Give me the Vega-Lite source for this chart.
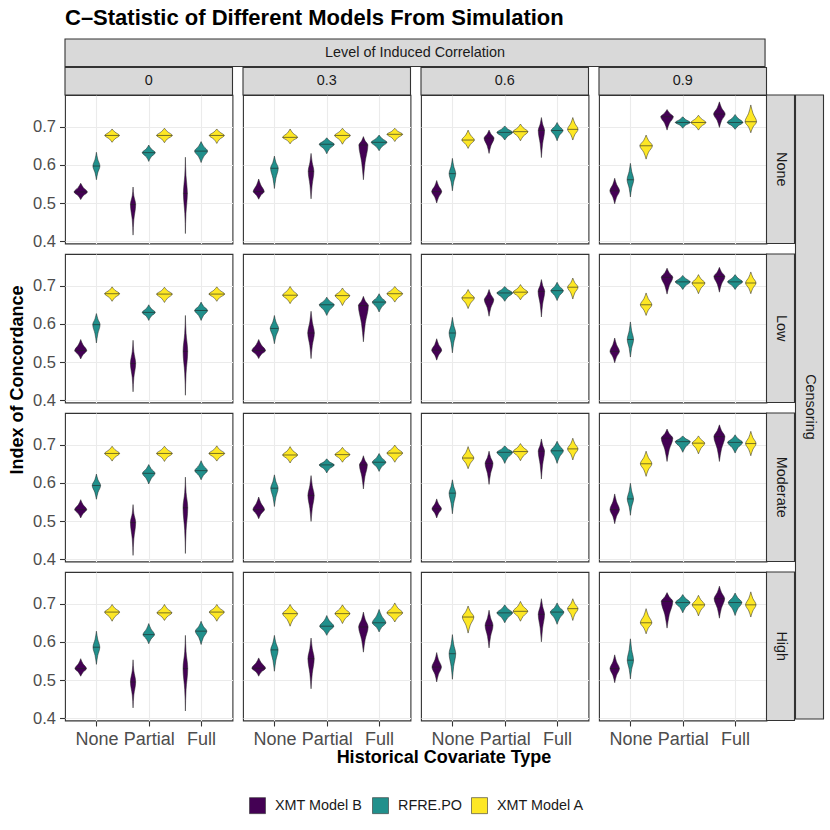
{
  "$schema": "https://vega.github.io/schema/vega-lite/v6.json",
  "background": "white",
  "padding": {"left": 8, "top": 6, "right": 9, "bottom": 10},
  "title": {
    "text": "C–Statistic of Different Models From Simulation",
    "anchor": "start",
    "frame": "group",
    "fontSize": 22,
    "fontWeight": "bold",
    "color": "black",
    "offset": 8
  },
  "data": {
    "values": [
      {"k":"cs","c":"0","s":"None","lab":"0"},
      {"k":"cs","c":"0.3","s":"None","lab":"0.3"},
      {"k":"cs","c":"0.6","s":"None","lab":"0.6"},
      {"k":"cs","c":"0.9","s":"None","lab":"0.9"},
      {"k":"rs","c":"0.9","s":"None","lab":"None"},
      {"k":"rs","c":"0.9","s":"Low","lab":"Low"},
      {"k":"rs","c":"0.9","s":"Moderate","lab":"Moderate"},
      {"k":"rs","c":"0.9","s":"High","lab":"High"},
      {"k":"os","c":"0","s":"None","lab":"Level of Induced Correlation"},
      {"k":"cen","c":"0.9","s":"None","lab":"Censoring"},

      {"k":"v","c":"0","s":"None","t":"N","m":"B","vy":[0.509,0.519,0.529,0.541,0.552],"vw":[0,0.048,0.127,0.048,0]},
      {"k":"v","c":"0","s":"None","t":"N","m":"R","vy":[0.561,0.579,0.597,0.615,0.633],"vw":[0,0.025,0.067,0.025,0]},
      {"k":"v","c":"0","s":"None","t":"N","m":"A","vy":[0.659,0.668,0.677,0.686,0.694],"vw":[0,0.053,0.14,0.053,0]},
      {"k":"v","c":"0","s":"None","t":"P","m":"B","vy":[0.416,0.456,0.496,0.519,0.542],"vw":[0,0.015,0.05,0.015,0]},
      {"k":"v","c":"0","s":"None","t":"P","m":"R","vy":[0.609,0.621,0.632,0.642,0.652],"vw":[0,0.047,0.124,0.047,0]},
      {"k":"v","c":"0","s":"None","t":"P","m":"A","vy":[0.658,0.668,0.677,0.687,0.696],"vw":[0,0.057,0.15,0.057,0]},
      {"k":"v","c":"0","s":"None","t":"F","m":"B","vy":[0.42,0.473,0.525,0.573,0.62],"vw":[0,0.011,0.038,0.011,0]},
      {"k":"v","c":"0","s":"None","t":"F","m":"R","vy":[0.606,0.621,0.636,0.649,0.661],"vw":[0,0.047,0.124,0.047,0]},
      {"k":"v","c":"0","s":"None","t":"F","m":"A","vy":[0.656,0.667,0.677,0.686,0.694],"vw":[0,0.054,0.143,0.054,0]},

      {"k":"v","c":"0.3","s":"None","t":"N","m":"B","vy":[0.51,0.52,0.53,0.547,0.563],"vw":[0,0.04,0.105,0.04,0]},
      {"k":"v","c":"0.3","s":"None","t":"N","m":"R","vy":[0.538,0.565,0.591,0.607,0.623],"vw":[0,0.028,0.073,0.028,0]},
      {"k":"v","c":"0.3","s":"None","t":"N","m":"A","vy":[0.655,0.664,0.672,0.683,0.694],"vw":[0,0.054,0.143,0.054,0]},
      {"k":"v","c":"0.3","s":"None","t":"P","m":"B","vy":[0.511,0.547,0.583,0.607,0.63],"vw":[0,0.021,0.054,0.021,0]},
      {"k":"v","c":"0.3","s":"None","t":"P","m":"R","vy":[0.629,0.642,0.654,0.663,0.671],"vw":[0,0.054,0.143,0.054,0]},
      {"k":"v","c":"0.3","s":"None","t":"P","m":"A","vy":[0.654,0.666,0.677,0.687,0.696],"vw":[0,0.057,0.15,0.057,0]},
      {"k":"v","c":"0.3","s":"None","t":"F","m":"B","vy":[0.561,0.607,0.652,0.663,0.674],"vw":[0,0.033,0.086,0.033,0]},
      {"k":"v","c":"0.3","s":"None","t":"F","m":"R","vy":[0.637,0.648,0.659,0.669,0.678],"vw":[0,0.057,0.15,0.057,0]},
      {"k":"v","c":"0.3","s":"None","t":"F","m":"A","vy":[0.661,0.671,0.68,0.688,0.696],"vw":[0,0.057,0.15,0.057,0]},

      {"k":"v","c":"0.6","s":"None","t":"N","m":"B","vy":[0.5,0.515,0.53,0.545,0.559],"vw":[0,0.036,0.095,0.036,0]},
      {"k":"v","c":"0.6","s":"None","t":"N","m":"R","vy":[0.532,0.555,0.577,0.597,0.617],"vw":[0,0.024,0.063,0.024,0]},
      {"k":"v","c":"0.6","s":"None","t":"N","m":"A","vy":[0.643,0.654,0.665,0.678,0.691],"vw":[0,0.046,0.12,0.046,0]},
      {"k":"v","c":"0.6","s":"None","t":"P","m":"B","vy":[0.63,0.65,0.67,0.681,0.691],"vw":[0,0.036,0.095,0.036,0]},
      {"k":"v","c":"0.6","s":"None","t":"P","m":"R","vy":[0.665,0.675,0.685,0.694,0.702],"vw":[0,0.057,0.15,0.057,0]},
      {"k":"v","c":"0.6","s":"None","t":"P","m":"A","vy":[0.663,0.675,0.687,0.697,0.707],"vw":[0,0.054,0.143,0.054,0]},
      {"k":"v","c":"0.6","s":"None","t":"F","m":"B","vy":[0.619,0.655,0.69,0.707,0.724],"vw":[0,0.023,0.06,0.023,0]},
      {"k":"v","c":"0.6","s":"None","t":"F","m":"R","vy":[0.663,0.677,0.69,0.701,0.711],"vw":[0,0.043,0.114,0.043,0]},
      {"k":"v","c":"0.6","s":"None","t":"F","m":"A","vy":[0.665,0.679,0.693,0.709,0.724],"vw":[0,0.038,0.1,0.038,0]},

      {"k":"v","c":"0.9","s":"None","t":"N","m":"B","vy":[0.498,0.515,0.532,0.549,0.565],"vw":[0,0.035,0.092,0.035,0]},
      {"k":"v","c":"0.9","s":"None","t":"N","m":"R","vy":[0.516,0.539,0.561,0.583,0.604],"vw":[0,0.024,0.063,0.024,0]},
      {"k":"v","c":"0.9","s":"None","t":"N","m":"A","vy":[0.615,0.633,0.65,0.664,0.678],"vw":[0,0.046,0.12,0.046,0]},
      {"k":"v","c":"0.9","s":"None","t":"P","m":"B","vy":[0.691,0.709,0.726,0.736,0.745],"vw":[0,0.046,0.12,0.046,0]},
      {"k":"v","c":"0.9","s":"None","t":"P","m":"R","vy":[0.696,0.704,0.711,0.719,0.726],"vw":[0,0.054,0.143,0.054,0]},
      {"k":"v","c":"0.9","s":"None","t":"P","m":"A","vy":[0.691,0.701,0.711,0.721,0.73],"vw":[0,0.054,0.143,0.054,0]},
      {"k":"v","c":"0.9","s":"None","t":"F","m":"B","vy":[0.698,0.716,0.733,0.749,0.765],"vw":[0,0.042,0.11,0.042,0]},
      {"k":"v","c":"0.9","s":"None","t":"F","m":"R","vy":[0.693,0.702,0.711,0.722,0.732],"vw":[0,0.057,0.15,0.057,0]},
      {"k":"v","c":"0.9","s":"None","t":"F","m":"A","vy":[0.684,0.699,0.713,0.735,0.757],"vw":[0,0.042,0.11,0.042,0]},

      {"k":"v","c":"0","s":"Low","t":"N","m":"B","vy":[0.508,0.519,0.53,0.545,0.559],"vw":[0,0.044,0.115,0.044,0]},
      {"k":"v","c":"0","s":"Low","t":"N","m":"R","vy":[0.55,0.574,0.598,0.613,0.627],"vw":[0,0.027,0.07,0.027,0]},
      {"k":"v","c":"0","s":"Low","t":"N","m":"A","vy":[0.659,0.669,0.679,0.688,0.697],"vw":[0,0.054,0.143,0.054,0]},
      {"k":"v","c":"0","s":"Low","t":"P","m":"B","vy":[0.422,0.459,0.496,0.527,0.557],"vw":[0,0.015,0.05,0.015,0]},
      {"k":"v","c":"0","s":"Low","t":"P","m":"R","vy":[0.609,0.62,0.63,0.64,0.65],"vw":[0,0.047,0.124,0.047,0]},
      {"k":"v","c":"0","s":"Low","t":"P","m":"A","vy":[0.656,0.667,0.678,0.687,0.696],"vw":[0,0.057,0.15,0.057,0]},
      {"k":"v","c":"0","s":"Low","t":"F","m":"B","vy":[0.413,0.471,0.528,0.575,0.622],"vw":[0,0.013,0.044,0.013,0]},
      {"k":"v","c":"0","s":"Low","t":"F","m":"R","vy":[0.609,0.622,0.635,0.646,0.657],"vw":[0,0.047,0.124,0.047,0]},
      {"k":"v","c":"0","s":"Low","t":"F","m":"A","vy":[0.659,0.669,0.678,0.688,0.697],"vw":[0,0.057,0.15,0.057,0]},

      {"k":"v","c":"0.3","s":"Low","t":"N","m":"B","vy":[0.509,0.52,0.53,0.545,0.559],"vw":[0,0.049,0.13,0.049,0]},
      {"k":"v","c":"0.3","s":"Low","t":"N","m":"R","vy":[0.548,0.568,0.588,0.605,0.622],"vw":[0,0.03,0.08,0.03,0]},
      {"k":"v","c":"0.3","s":"Low","t":"N","m":"A","vy":[0.653,0.664,0.675,0.687,0.698],"vw":[0,0.054,0.143,0.054,0]},
      {"k":"v","c":"0.3","s":"Low","t":"P","m":"B","vy":[0.509,0.543,0.576,0.605,0.633],"vw":[0,0.024,0.063,0.024,0]},
      {"k":"v","c":"0.3","s":"Low","t":"P","m":"R","vy":[0.622,0.636,0.65,0.66,0.67],"vw":[0,0.054,0.143,0.054,0]},
      {"k":"v","c":"0.3","s":"Low","t":"P","m":"A","vy":[0.648,0.661,0.674,0.684,0.694],"vw":[0,0.053,0.14,0.053,0]},
      {"k":"v","c":"0.3","s":"Low","t":"F","m":"B","vy":[0.553,0.601,0.648,0.66,0.672],"vw":[0,0.036,0.095,0.036,0]},
      {"k":"v","c":"0.3","s":"Low","t":"F","m":"R","vy":[0.631,0.644,0.657,0.668,0.679],"vw":[0,0.049,0.13,0.049,0]},
      {"k":"v","c":"0.3","s":"Low","t":"F","m":"A","vy":[0.657,0.668,0.679,0.689,0.698],"vw":[0,0.057,0.15,0.057,0]},

      {"k":"v","c":"0.6","s":"Low","t":"N","m":"B","vy":[0.505,0.518,0.531,0.546,0.561],"vw":[0,0.036,0.095,0.036,0]},
      {"k":"v","c":"0.6","s":"Low","t":"N","m":"R","vy":[0.524,0.55,0.576,0.597,0.617],"vw":[0,0.024,0.063,0.024,0]},
      {"k":"v","c":"0.6","s":"Low","t":"N","m":"A","vy":[0.64,0.654,0.668,0.679,0.69],"vw":[0,0.046,0.12,0.046,0]},
      {"k":"v","c":"0.6","s":"Low","t":"P","m":"B","vy":[0.62,0.642,0.663,0.677,0.69],"vw":[0,0.034,0.09,0.034,0]},
      {"k":"v","c":"0.6","s":"Low","t":"P","m":"R","vy":[0.659,0.67,0.681,0.69,0.698],"vw":[0,0.057,0.15,0.057,0]},
      {"k":"v","c":"0.6","s":"Low","t":"P","m":"A","vy":[0.663,0.673,0.683,0.693,0.703],"vw":[0,0.053,0.14,0.053,0]},
      {"k":"v","c":"0.6","s":"Low","t":"F","m":"B","vy":[0.618,0.652,0.685,0.701,0.716],"vw":[0,0.024,0.063,0.024,0]},
      {"k":"v","c":"0.6","s":"Low","t":"F","m":"R","vy":[0.661,0.674,0.687,0.698,0.709],"vw":[0,0.046,0.12,0.046,0]},
      {"k":"v","c":"0.6","s":"Low","t":"F","m":"A","vy":[0.665,0.681,0.696,0.708,0.72],"vw":[0,0.038,0.1,0.038,0]},

      {"k":"v","c":"0.9","s":"Low","t":"N","m":"B","vy":[0.498,0.513,0.528,0.546,0.563],"vw":[0,0.034,0.09,0.034,0]},
      {"k":"v","c":"0.9","s":"Low","t":"N","m":"R","vy":[0.513,0.536,0.559,0.582,0.605],"vw":[0,0.023,0.06,0.023,0]},
      {"k":"v","c":"0.9","s":"Low","t":"N","m":"A","vy":[0.622,0.636,0.65,0.666,0.681],"vw":[0,0.042,0.11,0.042,0]},
      {"k":"v","c":"0.9","s":"Low","t":"P","m":"B","vy":[0.678,0.7,0.722,0.734,0.746],"vw":[0,0.042,0.11,0.042,0]},
      {"k":"v","c":"0.9","s":"Low","t":"P","m":"R","vy":[0.69,0.7,0.71,0.719,0.727],"vw":[0,0.054,0.143,0.054,0]},
      {"k":"v","c":"0.9","s":"Low","t":"P","m":"A","vy":[0.679,0.693,0.707,0.718,0.729],"vw":[0,0.047,0.124,0.047,0]},
      {"k":"v","c":"0.9","s":"Low","t":"F","m":"B","vy":[0.683,0.704,0.724,0.736,0.748],"vw":[0,0.04,0.105,0.04,0]},
      {"k":"v","c":"0.9","s":"Low","t":"F","m":"R","vy":[0.69,0.7,0.71,0.72,0.729],"vw":[0,0.054,0.143,0.054,0]},
      {"k":"v","c":"0.9","s":"Low","t":"F","m":"A","vy":[0.679,0.693,0.707,0.722,0.736],"vw":[0,0.038,0.1,0.038,0]},

      {"k":"v","c":"0","s":"Moderate","t":"N","m":"B","vy":[0.508,0.519,0.53,0.543,0.556],"vw":[0,0.044,0.115,0.044,0]},
      {"k":"v","c":"0","s":"Moderate","t":"N","m":"R","vy":[0.557,0.575,0.593,0.608,0.623],"vw":[0,0.03,0.08,0.03,0]},
      {"k":"v","c":"0","s":"Moderate","t":"N","m":"A","vy":[0.657,0.667,0.677,0.687,0.696],"vw":[0,0.054,0.143,0.054,0]},
      {"k":"v","c":"0","s":"Moderate","t":"P","m":"B","vy":[0.41,0.453,0.496,0.52,0.543],"vw":[0,0.015,0.05,0.015,0]},
      {"k":"v","c":"0","s":"Moderate","t":"P","m":"R","vy":[0.597,0.611,0.625,0.637,0.648],"vw":[0,0.046,0.12,0.046,0]},
      {"k":"v","c":"0","s":"Moderate","t":"P","m":"A","vy":[0.656,0.667,0.677,0.687,0.696],"vw":[0,0.057,0.15,0.057,0]},
      {"k":"v","c":"0","s":"Moderate","t":"F","m":"B","vy":[0.415,0.475,0.535,0.575,0.615],"vw":[0,0.013,0.045,0.013,0]},
      {"k":"v","c":"0","s":"Moderate","t":"F","m":"R","vy":[0.608,0.62,0.632,0.645,0.658],"vw":[0,0.046,0.12,0.046,0]},
      {"k":"v","c":"0","s":"Moderate","t":"F","m":"A","vy":[0.657,0.667,0.677,0.687,0.697],"vw":[0,0.057,0.15,0.057,0]},

      {"k":"v","c":"0.3","s":"Moderate","t":"N","m":"B","vy":[0.506,0.518,0.53,0.547,0.563],"vw":[0,0.042,0.11,0.042,0]},
      {"k":"v","c":"0.3","s":"Moderate","t":"N","m":"R","vy":[0.538,0.562,0.586,0.604,0.621],"vw":[0,0.027,0.07,0.027,0]},
      {"k":"v","c":"0.3","s":"Moderate","t":"N","m":"A","vy":[0.652,0.663,0.673,0.684,0.695],"vw":[0,0.054,0.143,0.054,0]},
      {"k":"v","c":"0.3","s":"Moderate","t":"P","m":"B","vy":[0.499,0.533,0.567,0.593,0.619],"vw":[0,0.023,0.06,0.023,0]},
      {"k":"v","c":"0.3","s":"Moderate","t":"P","m":"R","vy":[0.626,0.637,0.647,0.655,0.663],"vw":[0,0.054,0.143,0.054,0]},
      {"k":"v","c":"0.3","s":"Moderate","t":"P","m":"A","vy":[0.654,0.664,0.674,0.684,0.693],"vw":[0,0.054,0.143,0.054,0]},
      {"k":"v","c":"0.3","s":"Moderate","t":"F","m":"B","vy":[0.584,0.616,0.647,0.659,0.671],"vw":[0,0.029,0.075,0.029,0]},
      {"k":"v","c":"0.3","s":"Moderate","t":"F","m":"R","vy":[0.63,0.642,0.654,0.666,0.677],"vw":[0,0.049,0.13,0.049,0]},
      {"k":"v","c":"0.3","s":"Moderate","t":"F","m":"A","vy":[0.654,0.666,0.678,0.689,0.699],"vw":[0,0.057,0.15,0.057,0]},

      {"k":"v","c":"0.6","s":"Moderate","t":"N","m":"B","vy":[0.508,0.52,0.532,0.545,0.558],"vw":[0,0.034,0.09,0.034,0]},
      {"k":"v","c":"0.6","s":"Moderate","t":"N","m":"R","vy":[0.519,0.546,0.573,0.591,0.608],"vw":[0,0.024,0.063,0.024,0]},
      {"k":"v","c":"0.6","s":"Moderate","t":"N","m":"A","vy":[0.637,0.651,0.665,0.68,0.695],"vw":[0,0.042,0.11,0.042,0]},
      {"k":"v","c":"0.6","s":"Moderate","t":"P","m":"B","vy":[0.596,0.624,0.651,0.667,0.683],"vw":[0,0.029,0.075,0.029,0]},
      {"k":"v","c":"0.6","s":"Moderate","t":"P","m":"R","vy":[0.651,0.666,0.68,0.689,0.697],"vw":[0,0.057,0.15,0.057,0]},
      {"k":"v","c":"0.6","s":"Moderate","t":"P","m":"A","vy":[0.658,0.67,0.682,0.693,0.703],"vw":[0,0.053,0.14,0.053,0]},
      {"k":"v","c":"0.6","s":"Moderate","t":"F","m":"B","vy":[0.61,0.647,0.683,0.699,0.715],"vw":[0,0.023,0.06,0.023,0]},
      {"k":"v","c":"0.6","s":"Moderate","t":"F","m":"R","vy":[0.651,0.668,0.684,0.697,0.709],"vw":[0,0.046,0.12,0.046,0]},
      {"k":"v","c":"0.6","s":"Moderate","t":"F","m":"A","vy":[0.66,0.675,0.689,0.703,0.717],"vw":[0,0.038,0.1,0.038,0]},

      {"k":"v","c":"0.9","s":"Moderate","t":"N","m":"B","vy":[0.493,0.512,0.53,0.551,0.571],"vw":[0,0.034,0.09,0.034,0]},
      {"k":"v","c":"0.9","s":"Moderate","t":"N","m":"R","vy":[0.515,0.537,0.558,0.579,0.599],"vw":[0,0.023,0.06,0.023,0]},
      {"k":"v","c":"0.9","s":"Moderate","t":"N","m":"A","vy":[0.617,0.634,0.65,0.667,0.683],"vw":[0,0.042,0.11,0.042,0]},
      {"k":"v","c":"0.9","s":"Moderate","t":"P","m":"B","vy":[0.656,0.687,0.717,0.729,0.741],"vw":[0,0.042,0.11,0.042,0]},
      {"k":"v","c":"0.9","s":"Moderate","t":"P","m":"R","vy":[0.68,0.694,0.708,0.716,0.723],"vw":[0,0.054,0.143,0.054,0]},
      {"k":"v","c":"0.9","s":"Moderate","t":"P","m":"A","vy":[0.676,0.69,0.704,0.714,0.723],"vw":[0,0.046,0.12,0.046,0]},
      {"k":"v","c":"0.9","s":"Moderate","t":"F","m":"B","vy":[0.656,0.689,0.721,0.737,0.752],"vw":[0,0.04,0.105,0.04,0]},
      {"k":"v","c":"0.9","s":"Moderate","t":"F","m":"R","vy":[0.678,0.692,0.706,0.716,0.726],"vw":[0,0.054,0.143,0.054,0]},
      {"k":"v","c":"0.9","s":"Moderate","t":"F","m":"A","vy":[0.671,0.687,0.703,0.719,0.735],"vw":[0,0.038,0.1,0.038,0]},

      {"k":"v","c":"0","s":"High","t":"N","m":"B","vy":[0.51,0.52,0.53,0.543,0.556],"vw":[0,0.042,0.11,0.042,0]},
      {"k":"v","c":"0","s":"High","t":"N","m":"R","vy":[0.541,0.564,0.586,0.607,0.628],"vw":[0,0.025,0.065,0.025,0]},
      {"k":"v","c":"0","s":"High","t":"N","m":"A","vy":[0.654,0.666,0.678,0.688,0.698],"vw":[0,0.054,0.143,0.054,0]},
      {"k":"v","c":"0","s":"High","t":"P","m":"B","vy":[0.427,0.461,0.495,0.524,0.553],"vw":[0,0.015,0.05,0.015,0]},
      {"k":"v","c":"0","s":"High","t":"P","m":"R","vy":[0.595,0.607,0.619,0.634,0.648],"vw":[0,0.042,0.11,0.042,0]},
      {"k":"v","c":"0","s":"High","t":"P","m":"A","vy":[0.656,0.666,0.676,0.687,0.698],"vw":[0,0.054,0.143,0.054,0]},
      {"k":"v","c":"0","s":"High","t":"F","m":"B","vy":[0.419,0.475,0.53,0.574,0.617],"vw":[0,0.013,0.045,0.013,0]},
      {"k":"v","c":"0","s":"High","t":"F","m":"R","vy":[0.593,0.611,0.628,0.641,0.654],"vw":[0,0.042,0.11,0.042,0]},
      {"k":"v","c":"0","s":"High","t":"F","m":"A","vy":[0.654,0.666,0.678,0.688,0.698],"vw":[0,0.054,0.143,0.054,0]},

      {"k":"v","c":"0.3","s":"High","t":"N","m":"B","vy":[0.51,0.521,0.531,0.545,0.558],"vw":[0,0.049,0.13,0.049,0]},
      {"k":"v","c":"0.3","s":"High","t":"N","m":"R","vy":[0.523,0.551,0.579,0.598,0.617],"vw":[0,0.027,0.07,0.027,0]},
      {"k":"v","c":"0.3","s":"High","t":"N","m":"A","vy":[0.641,0.658,0.674,0.686,0.698],"vw":[0,0.054,0.143,0.054,0]},
      {"k":"v","c":"0.3","s":"High","t":"P","m":"B","vy":[0.477,0.517,0.556,0.583,0.61],"vw":[0,0.023,0.06,0.023,0]},
      {"k":"v","c":"0.3","s":"High","t":"P","m":"R","vy":[0.617,0.629,0.641,0.655,0.669],"vw":[0,0.051,0.135,0.051,0]},
      {"k":"v","c":"0.3","s":"High","t":"P","m":"A","vy":[0.648,0.661,0.674,0.686,0.697],"vw":[0,0.054,0.143,0.054,0]},
      {"k":"v","c":"0.3","s":"High","t":"F","m":"B","vy":[0.573,0.606,0.639,0.659,0.678],"vw":[0,0.034,0.09,0.034,0]},
      {"k":"v","c":"0.3","s":"High","t":"F","m":"R","vy":[0.626,0.638,0.65,0.668,0.685],"vw":[0,0.049,0.13,0.049,0]},
      {"k":"v","c":"0.3","s":"High","t":"F","m":"A","vy":[0.652,0.664,0.676,0.689,0.702],"vw":[0,0.057,0.15,0.057,0]},

      {"k":"v","c":"0.6","s":"High","t":"N","m":"B","vy":[0.495,0.515,0.534,0.553,0.572],"vw":[0,0.034,0.09,0.034,0]},
      {"k":"v","c":"0.6","s":"High","t":"N","m":"R","vy":[0.502,0.536,0.569,0.594,0.619],"vw":[0,0.024,0.063,0.024,0]},
      {"k":"v","c":"0.6","s":"High","t":"N","m":"A","vy":[0.623,0.644,0.665,0.68,0.694],"vw":[0,0.042,0.11,0.042,0]},
      {"k":"v","c":"0.6","s":"High","t":"P","m":"B","vy":[0.584,0.614,0.643,0.663,0.683],"vw":[0,0.029,0.075,0.029,0]},
      {"k":"v","c":"0.6","s":"High","t":"P","m":"R","vy":[0.65,0.663,0.676,0.687,0.697],"vw":[0,0.057,0.15,0.057,0]},
      {"k":"v","c":"0.6","s":"High","t":"P","m":"A","vy":[0.654,0.667,0.68,0.693,0.706],"vw":[0,0.053,0.14,0.053,0]},
      {"k":"v","c":"0.6","s":"High","t":"F","m":"B","vy":[0.6,0.636,0.672,0.693,0.713],"vw":[0,0.023,0.06,0.023,0]},
      {"k":"v","c":"0.6","s":"High","t":"F","m":"R","vy":[0.646,0.662,0.678,0.69,0.702],"vw":[0,0.049,0.13,0.049,0]},
      {"k":"v","c":"0.6","s":"High","t":"F","m":"A","vy":[0.656,0.672,0.687,0.7,0.713],"vw":[0,0.038,0.1,0.038,0]},

      {"k":"v","c":"0.9","s":"High","t":"N","m":"B","vy":[0.493,0.512,0.53,0.548,0.566],"vw":[0,0.034,0.09,0.034,0]},
      {"k":"v","c":"0.9","s":"High","t":"N","m":"R","vy":[0.503,0.528,0.552,0.58,0.608],"vw":[0,0.023,0.06,0.023,0]},
      {"k":"v","c":"0.9","s":"High","t":"N","m":"A","vy":[0.621,0.636,0.65,0.669,0.687],"vw":[0,0.042,0.11,0.042,0]},
      {"k":"v","c":"0.9","s":"High","t":"P","m":"B","vy":[0.636,0.671,0.706,0.718,0.729],"vw":[0,0.042,0.11,0.042,0]},
      {"k":"v","c":"0.9","s":"High","t":"P","m":"R","vy":[0.676,0.69,0.703,0.714,0.724],"vw":[0,0.053,0.14,0.053,0]},
      {"k":"v","c":"0.9","s":"High","t":"P","m":"A","vy":[0.668,0.683,0.697,0.71,0.722],"vw":[0,0.046,0.12,0.046,0]},
      {"k":"v","c":"0.9","s":"High","t":"F","m":"B","vy":[0.662,0.688,0.713,0.73,0.746],"vw":[0,0.038,0.1,0.038,0]},
      {"k":"v","c":"0.9","s":"High","t":"F","m":"R","vy":[0.669,0.686,0.703,0.716,0.728],"vw":[0,0.049,0.13,0.049,0]},
      {"k":"v","c":"0.9","s":"High","t":"F","m":"A","vy":[0.665,0.681,0.697,0.714,0.731],"vw":[0,0.038,0.1,0.038,0]}
    ]
  },
  "facet": {
    "column": {
      "field": "c",
      "type": "nominal",
      "sort": ["0", "0.3", "0.6", "0.9"],
      "title": "Historical Covariate Type",
      "header": {
        "labels": false,
        "titleOrient": "bottom",
        "titleFontSize": 18,
        "titleFontWeight": "bold",
        "titleColor": "black",
        "titlePadding": -9
      }
    },
    "row": {
      "field": "s",
      "type": "nominal",
      "sort": ["None", "Low", "Moderate", "High"],
      "title": "Index of Concordance",
      "header": {
        "labels": false,
        "titleFontSize": 18,
        "titleFontWeight": "bold",
        "titleColor": "black",
        "titlePadding": -5
      }
    }
  },
  "spacing": {"row": 10, "column": 10},
  "bounds": "flush",
  "spec": {
    "width": 167.5,
    "height": 148.5,
    "layer": [
      {
        "transform": [
          {"filter": "datum.k == 'v'"},
          {"flatten": ["vy", "vw"], "as": ["yy", "ww"]},
          {"calculate": "indexof(['N','P','F'], datum.t) + 1 + (datum.m == 'B' ? -0.3 : datum.m == 'A' ? 0.3 : 0)", "as": "p"},
          {"calculate": "datum.p - datum.ww", "as": "xl"},
          {"calculate": "datum.p + datum.ww", "as": "xr"}
        ],
        "mark": {
          "type": "area",
          "orient": "horizontal",
          "interpolate": "monotone",
          "opacity": 1,
          "stroke": "#222222",
          "strokeWidth": 0.5
        },
        "encoding": {
          "x": {
            "field": "xl",
            "type": "quantitative",
            "scale": {"domain": [0.4, 3.6], "nice": false, "zero": false},
            "axis": {
              "title": null,
              "values": [1, 2, 3],
              "labelExpr": "datum.value == 1 ? 'None' : datum.value == 2 ? 'Partial' : 'Full'",
              "grid": true,
              "gridColor": "#ebebeb",
              "gridWidth": 1.1,
              "domain": false,
              "ticks": true,
              "tickSize": 5,
              "tickColor": "#333333",
              "tickWidth": 1.1,
              "labelFontSize": 18,
              "labelColor": "#4d4d4d",
              "labelPadding": 4,
              "labelFlush": false,
              "labelOverlap": false
            }
          },
          "x2": {"field": "xr"},
          "y": {
            "field": "yy",
            "type": "quantitative",
            "scale": {"domain": [0.394, 0.783], "nice": false, "zero": false},
            "axis": {
              "title": null,
              "values": [0.4, 0.45, 0.5, 0.55, 0.6, 0.65, 0.7, 0.75],
              "labelExpr": "round(datum.value * 100) % 10 == 0 ? format(datum.value, '.1f') : ''",
              "grid": true,
              "gridColor": "#ebebeb",
              "gridWidth": {"condition": {"test": "round(datum.value * 100) % 10 != 0", "value": 0.55}, "value": 1.1},
              "domain": false,
              "ticks": true,
              "tickSize": 5.5,
              "tickColor": "#333333",
              "tickWidth": 1.1,
              "tickOpacity": {"condition": {"test": "round(datum.value * 100) % 10 != 0", "value": 0}, "value": 1},
              "labelFontSize": 16.5,
              "labelColor": "#4d4d4d",
              "labelPadding": 4,
              "labelFlush": false,
              "labelOverlap": false
            }
          },
          "color": {
            "field": "m",
            "type": "nominal",
            "scale": {"domain": ["B", "R", "A"], "range": ["#440154", "#21908C", "#FDE725"]},
            "legend": {
              "title": null,
              "orient": "bottom",
              "direction": "horizontal",
              "labelExpr": "datum.label == 'B' ? 'XMT Model B' : datum.label == 'R' ? 'RFRE.PO' : 'XMT Model A'",
              "symbolType": "square",
              "symbolSize": 256,
              "symbolStrokeColor": "#333333",
              "symbolStrokeWidth": 0.6,
              "symbolOpacity": 1,
              "labelFontSize": 14.4,
              "labelColor": "#1a1a1a",
              "labelOffset": 9,
              "columnPadding": 8,
              "offset": 30
            }
          },
          "detail": {"field": "t"}
        }
      },
      {
        "transform": [
          {"filter": "datum.k == 'v'"},
          {"calculate": "indexof(['N','P','F'], datum.t) + 1 + (datum.m == 'B' ? -0.3 : datum.m == 'A' ? 0.3 : 0)", "as": "p"},
          {"calculate": "datum.p - datum.vw[2]", "as": "xl"},
          {"calculate": "datum.p + datum.vw[2]", "as": "xr"},
          {"calculate": "datum.vy[2]", "as": "yy"}
        ],
        "mark": {"type": "rule", "color": "#222222", "strokeWidth": 0.6},
        "encoding": {
          "x": {"field": "xl", "type": "quantitative"},
          "x2": {"field": "xr"},
          "y": {"field": "yy", "type": "quantitative"}
        }
      },
      {
        "transform": [{"filter": "datum.k == 'cs'"}],
        "mark": {"type": "rect", "fill": "#d9d9d9", "stroke": "#333333", "strokeWidth": 1.1},
        "encoding": {
          "x": {"datum": 0.4, "type": "quantitative"},
          "x2": {"datum": 3.6},
          "y": {"datum": 0.783, "type": "quantitative"},
          "y2": {"datum": 0.855}
        }
      },
      {
        "transform": [{"filter": "datum.k == 'cs'"}],
        "mark": {"type": "text", "fontSize": 14.4, "color": "#1a1a1a", "baseline": "middle", "align": "center"},
        "encoding": {
          "x": {"datum": 2, "type": "quantitative"},
          "y": {"datum": 0.819, "type": "quantitative"},
          "text": {"field": "lab"}
        }
      },
      {
        "transform": [{"filter": "datum.k == 'os'"}],
        "mark": {"type": "rect", "fill": "#d9d9d9", "stroke": "#333333", "strokeWidth": 1.1},
        "encoding": {
          "x": {"datum": 0.4, "type": "quantitative"},
          "x2": {"datum": 13.774},
          "y": {"datum": 0.8577, "type": "quantitative"},
          "y2": {"datum": 0.9297}
        }
      },
      {
        "transform": [{"filter": "datum.k == 'os'"}],
        "mark": {"type": "text", "fontSize": 14.4, "color": "#1a1a1a", "baseline": "middle", "align": "center"},
        "encoding": {
          "x": {"datum": 7.087, "type": "quantitative"},
          "y": {"datum": 0.8937, "type": "quantitative"},
          "text": {"field": "lab"}
        }
      },
      {
        "transform": [{"filter": "datum.k == 'rs'"}],
        "mark": {"type": "rect", "fill": "#d9d9d9", "stroke": "#333333", "strokeWidth": 1.1},
        "encoding": {
          "x": {"datum": 3.6, "type": "quantitative"},
          "x2": {"datum": 4.135},
          "y": {"datum": 0.394, "type": "quantitative"},
          "y2": {"datum": 0.783}
        }
      },
      {
        "transform": [{"filter": "datum.k == 'rs'"}],
        "mark": {"type": "text", "fontSize": 14.4, "color": "#1a1a1a", "baseline": "middle", "align": "center", "angle": 90},
        "encoding": {
          "x": {"datum": 3.8675, "type": "quantitative"},
          "y": {"datum": 0.5885, "type": "quantitative"},
          "text": {"field": "lab"}
        }
      },
      {
        "transform": [{"filter": "datum.k == 'cen'"}],
        "mark": {"type": "rect", "fill": "#d9d9d9", "stroke": "#333333", "strokeWidth": 1.1},
        "encoding": {
          "x": {"datum": 4.154, "type": "quantitative"},
          "x2": {"datum": 4.689},
          "y": {"datum": -0.8516, "type": "quantitative"},
          "y2": {"datum": 0.783}
        }
      },
      {
        "transform": [{"filter": "datum.k == 'cen'"}],
        "mark": {"type": "text", "fontSize": 14.4, "color": "#1a1a1a", "baseline": "middle", "align": "center", "angle": 90},
        "encoding": {
          "x": {"datum": 4.4215, "type": "quantitative"},
          "y": {"datum": -0.0343, "type": "quantitative"},
          "text": {"field": "lab"}
        }
      }
    ]
  },
  "config": {
    "font": "Liberation Sans",
    "view": {"stroke": "#333333", "strokeWidth": 1.1},
    "legend": {"layout": {"bottom": {"anchor": "middle"}}}
  }
}
